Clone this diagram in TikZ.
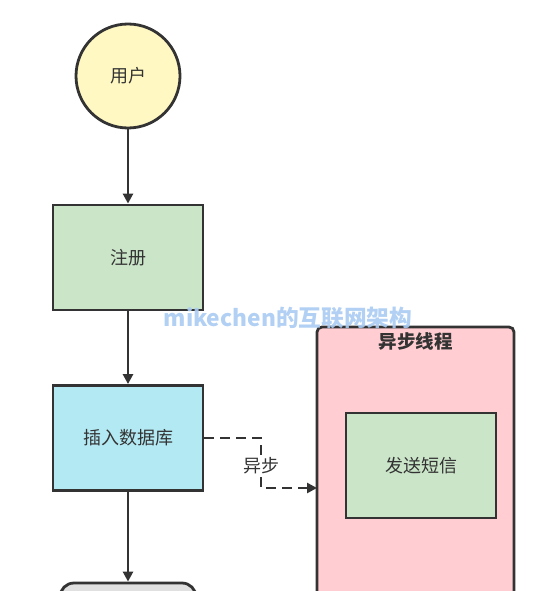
\documentclass[tikz,border=0pt]{standalone}
\usepackage{fontspec}
\setmainfont{Noto Sans CJK SC}
\usetikzlibrary{arrows.meta,calc}
\definecolor{strk}{HTML}{333333}
\definecolor{yel}{HTML}{FFF8C2}
\definecolor{grn}{HTML}{CBE5C9}
\definecolor{blu}{HTML}{B3E9F3}
\definecolor{pnk}{HTML}{FFCDD2}
\definecolor{gry}{HTML}{E0E0E0}
\definecolor{wm}{HTML}{A9CBF2}
\begin{document}
\begin{tikzpicture}[x=1pt,y=-1pt,
  base/.style={draw=strk,line width=2.8pt,font=\fontsize{18}{21}\selectfont,text=strk},
  boxnode/.style={base,rectangle,minimum width=150pt,minimum height=105pt,inner sep=0pt},
  arr/.style={draw=strk,line width=2.8pt,-{Triangle[length=10pt,width=10pt]}},
  darr/.style={draw=strk,line width=2.8pt,dash pattern=on 10pt off 6pt,-{Triangle[length=10pt,width=10pt]}}]
\useasboundingbox (0,0) rectangle (533,591);
\begin{scope}
\clip (0,0) rectangle (533,591);
\node[base,circle,fill=yel,minimum size=104pt,inner sep=0pt] (user) at (128,76) {用户};
\node[boxnode,fill=grn] (reg) at (128,257.5) {注册};
\node[boxnode,fill=blu] (db) at (128,438) {插入数据库};
\node[base,rectangle,rounded corners=14pt,fill=gry,minimum width=136pt,minimum height=60pt] (next) at (128,613) {};
\draw[base,fill=pnk,rounded corners=5pt] (317,327) rectangle (514,640);
\node[font=\bfseries\fontsize{18.5}{21}\selectfont,text=strk] (title) at (415.5,341) {异步线程};
\coordinate (thr) at (317,488);
\node[boxnode,fill=grn] (sms) at (421,465.5) {发送短信};
\draw[arr] (user) -- (reg);
\draw[arr] (reg) -- (db);
\draw[arr] (db) -- (next);
\draw[darr] (db.east) -- (261,438) -- (261,488) -- (thr);
\node[fill=white,inner sep=1pt,font=\fontsize{18}{21}\selectfont,text=strk] (lbl) at (261,466) {异步};
\node[font=\bfseries\fontsize{22.7}{26}\selectfont,text=wm,opacity=0.9] (wmk) at (288,318) {mikechen的互联网架构};
\end{scope}
\end{tikzpicture}
\end{document}
